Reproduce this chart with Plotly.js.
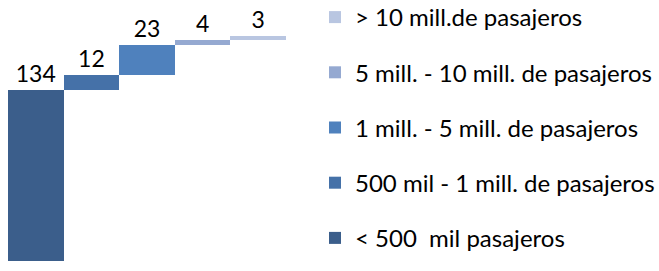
<!DOCTYPE html>
<html>
<head>
<meta charset="utf-8">
<script src="https://cdn.plot.ly/plotly-3.0.1.min.js"></script>
<style>html,body{margin:0;padding:0;background:#fff;}#chart{width:659px;height:271px;}</style>
</head>
<body>
<div id="chart"></div>
<script>
// Data (stack order bottom -> top)
var categories = ['< 500  mil pasajeros', '500 mil - 1 mill. de pasajeros', '1 mill. - 5 mill. de pasajeros', '5 mill. - 10 mill. de pasajeros', '> 10 mill.de pasajeros'];
var values = [134, 12, 23, 4, 3];
var colors = ['#3B5E8B', '#4571A8', '#4F81BD', '#95A9D1', '#B9C6E1'];

var traces = [];
var cum = 0;
for (var i = 0; i < values.length; i++) {
  traces.push({
    type: 'bar',
    name: categories[i],
    legendgroup: 'g' + i,
    x: [i],
    y: [values[i]],
    base: [cum],
    width: 1,
    marker: {color: colors[i], line: {width: 0}},
    text: [String(values[i])],
    textposition: 'outside',
    textfont: {family: 'Lato, sans-serif', size: 23, color: '#000'},
    cliponaxis: false,
    hoverinfo: 'name+y'
  });
  cum += values[i];
}
// legend lists the top of the stack first
traces.reverse();

var layout = {
  width: 659, height: 271,
  margin: {l: 8, r: 373, t: 0, b: 10, autoexpand: false},
  paper_bgcolor: '#fff', plot_bgcolor: '#fff',
  barmode: 'overlay',
  bargap: 0,
  showlegend: true,
  xaxis: {range: [-0.5, 4.5], visible: false, fixedrange: true},
  yaxis: {range: [0, 204.5], visible: false, fixedrange: true},
  legend: {
    x: (315 - 8) / 278, y: 1 + 5 / 261, xanchor: 'left', yanchor: 'top',
    traceorder: 'grouped',
    tracegroupgap: 21,
    font: {family: 'Lato, sans-serif', size: 24, color: '#000'},
    itemwidth: 30,
    maxheight: 271,
    bgcolor: 'rgba(0,0,0,0)'
  },
  font: {family: 'Lato, sans-serif'}
};

Plotly.newPlot('chart', traces, layout, {displayModeBar: false, staticPlot: true});
</script>
</body>
</html>
